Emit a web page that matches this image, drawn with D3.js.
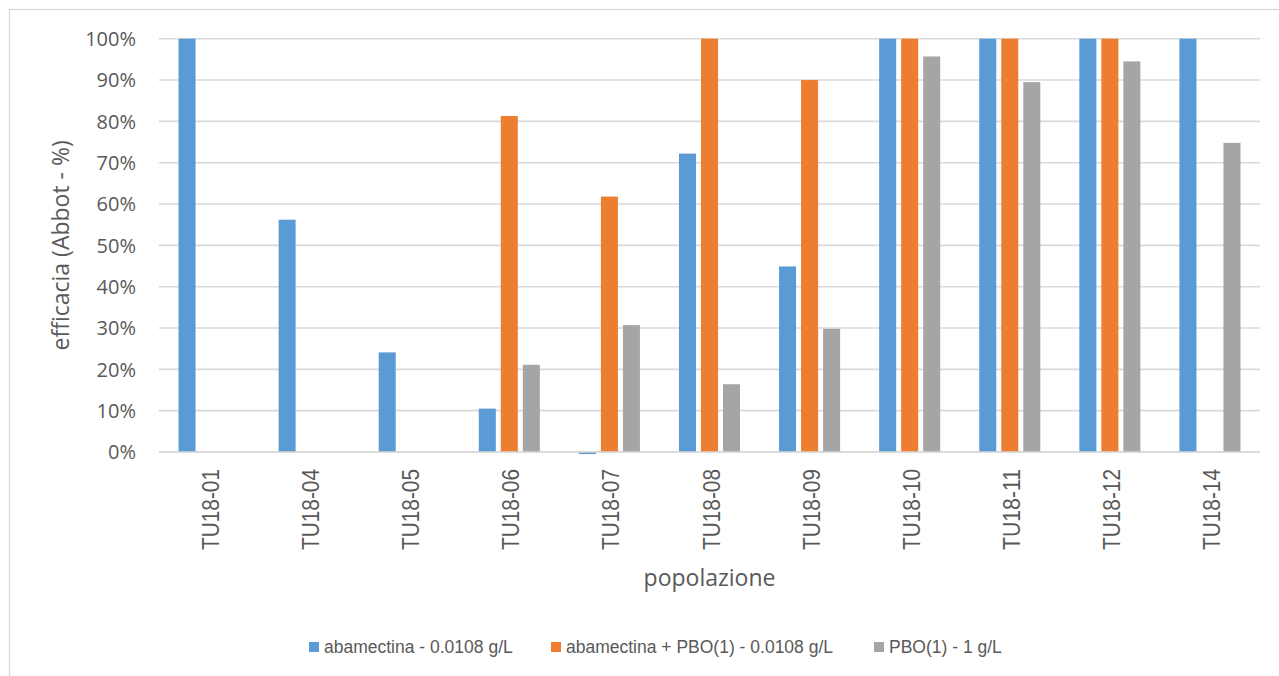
<!DOCTYPE html>
<html>
<head>
<meta charset="utf-8">
<script src="https://cdn.jsdelivr.net/npm/d3@7"></script>
<style>
  html, body { margin: 0; padding: 0; background: #ffffff; }
  svg { display: block; }
</style>
</head>
<body>
<svg id="chart" width="1279" height="676"></svg>
<script>
// Populations tested
const categories = ["TU18-01", "TU18-04", "TU18-05", "TU18-06", "TU18-07", "TU18-08",
                    "TU18-09", "TU18-10", "TU18-11", "TU18-12", "TU18-14"];

// Series names (legend order)
const seriesNames = ["abamectina - 0.0108 g/L", "abamectina + PBO(1) - 0.0108 g/L", "PBO(1) - 1 g/L"];

// Efficacy (Abbott, %) per population
const abamectina    = [100, 56.2, 24.1, 10.5, -0.5, 72.2, 44.9, 100, 100, 100, 100];
const abamectinaPBO = [0, 0, 0, 81.3, 61.8, 100, 90, 100, 100, 100, 0];
const pboOnly       = [0, 0, 0, 21.1, 30.7, 16.4, 29.8, 95.7, 89.5, 94.5, 74.8];

// Y axis ticks (%)
const yTicks = [0, 10, 20, 30, 40, 50, 60, 70, 80, 90, 100];

const colors = ["#5b9bd5", "#ed7d31", "#a5a5a5"];
const seriesValues = [abamectina, abamectinaPBO, pboOnly];

const svg = d3.select("#chart");

// chart frame
svg.append("rect")
  .attr("x", 9.5).attr("y", 9.5)
  .attr("width", 1300).attr("height", 700)
  .attr("fill", "none").attr("stroke", "#d9d9d9").attr("stroke-width", 1.3);

const plot = { left: 159, right: 1260, top: 38.7, bottom: 452 };

const x0 = d3.scaleBand()
  .domain(categories)
  .range([plot.left, plot.right])
  .paddingInner(0.39)
  .paddingOuter(0.195);

const x1 = d3.scaleBand()
  .domain(seriesNames)
  .range([0, x0.bandwidth()])
  .paddingInner(0.227)
  .paddingOuter(0);

const y = d3.scaleLinear()
  .domain([0, 100])
  .range([plot.bottom, plot.top]);

// gridlines
svg.append("g")
  .selectAll("line")
  .data(yTicks)
  .join("line")
  .attr("x1", plot.left).attr("x2", plot.right)
  .attr("y1", d => y(d)).attr("y2", d => y(d))
  .attr("stroke", "#d9d9d9").attr("stroke-width", 1.6);

// y tick labels
svg.append("g")
  .selectAll("text")
  .data(yTicks)
  .join("text")
  .attr("x", 136)
  .attr("y", d => y(d))
  .attr("dy", "0.36em")
  .attr("text-anchor", "end")
  .attr("font-family", "'Open Sans', sans-serif")
  .attr("font-size", 20)
  .attr("fill", "#595959")
  .text(d => d + "%");

// bars
const rows = categories.map((c, i) => ({
  cat: c,
  vals: seriesNames.map((s, k) => ({ series: s, k: k, v: seriesValues[k][i] }))
}));

const groups = svg.append("g")
  .selectAll("g")
  .data(rows)
  .join("g")
  .attr("transform", d => `translate(${x0(d.cat)},0)`);

groups.selectAll("rect")
  .data(d => d.vals.filter(e => e.v !== 0))
  .join("rect")
  .attr("x", d => x1(d.series))
  .attr("width", x1.bandwidth())
  .attr("y", d => Math.min(y(d.v), y(0)))
  .attr("height", d => Math.abs(y(d.v) - y(0)))
  .attr("fill", d => colors[d.k]);

// baseline
svg.append("line")
  .attr("x1", plot.left).attr("x2", plot.right)
  .attr("y1", y(0)).attr("y2", y(0))
  .attr("stroke", "#d9d9d9").attr("stroke-width", 1.6);

// x tick labels (rotated)
svg.append("g")
  .selectAll("text")
  .data(categories)
  .join("text")
  .attr("transform", d => `translate(${x0(d) + x0.bandwidth() / 2 + 10},469) rotate(-90)`)
  .attr("text-anchor", "end")
  .attr("font-family", "'Liberation Sans', Arial, sans-serif")
  .attr("font-size", 24)
  .attr("textLength", 81)
  .attr("lengthAdjust", "spacingAndGlyphs")
  .attr("fill", "#595959")
  .text(d => d);

// axis titles
svg.append("text")
  .attr("transform", `translate(69,${(plot.top + plot.bottom) / 2}) rotate(-90)`)
  .attr("text-anchor", "middle")
  .attr("font-family", "'Open Sans', sans-serif")
  .attr("font-size", 23)
  .attr("fill", "#595959")
  .text("efficacia (Abbot - %)");

svg.append("text")
  .attr("x", (plot.left + plot.right) / 2)
  .attr("y", 586)
  .attr("text-anchor", "middle")
  .attr("font-family", "'Open Sans', sans-serif")
  .attr("font-size", 23)
  .attr("fill", "#595959")
  .text("popolazione");

// legend
const legendX = [309, 551, 874];
const legend = svg.append("g")
  .selectAll("g")
  .data(seriesNames)
  .join("g")
  .attr("transform", (d, i) => `translate(${legendX[i]},0)`);

legend.append("rect")
  .attr("x", 0).attr("y", 642)
  .attr("width", 10).attr("height", 10)
  .attr("fill", (d, i) => colors[i]);

legend.append("text")
  .attr("x", 15)
  .attr("y", 653)
  .attr("font-family", "'Liberation Sans', Arial, sans-serif")
  .attr("font-size", 17.5)
  .attr("fill", "#595959")
  .text(d => d);
</script>
</body>
</html>
